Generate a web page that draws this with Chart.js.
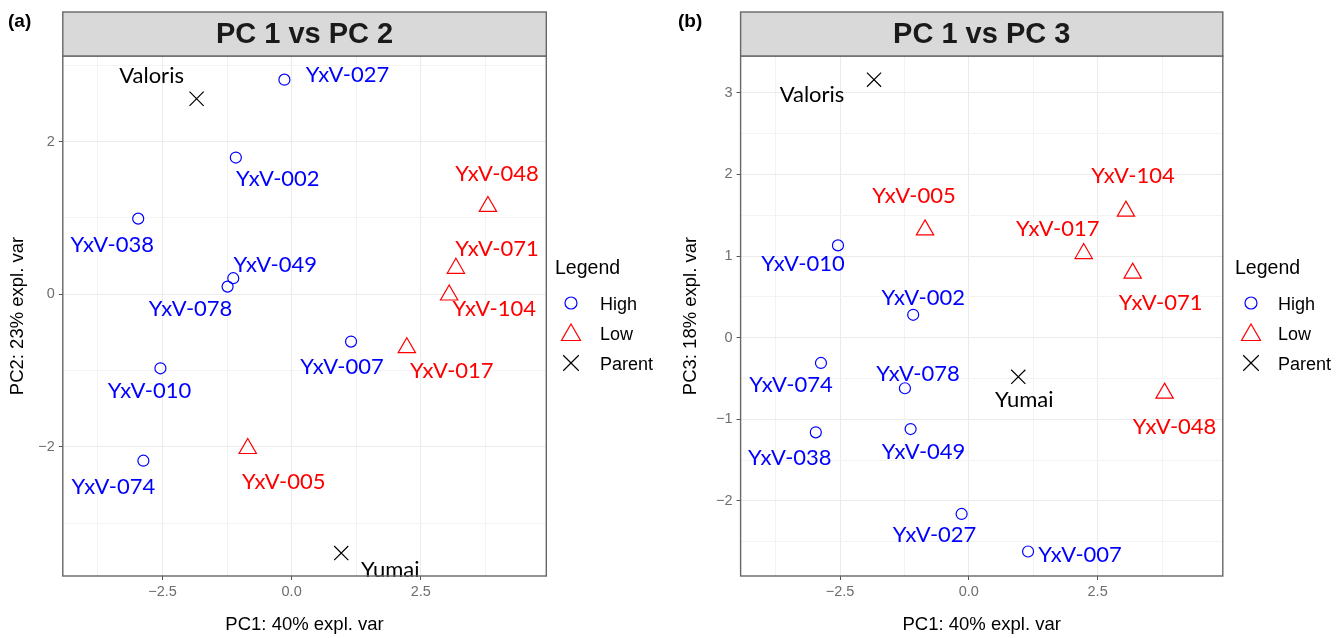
<!DOCTYPE html>
<html>
<head>
<meta charset="utf-8">
<script src="https://cdn.jsdelivr.net/npm/chart.js@4.4.1/dist/chart.umd.min.js"></script>
<style>
	html, body { margin: 0; padding: 0; background: #fff; }
	#wrap { position: relative; width: 1342px; height: 638px; }
	#panelA { position: absolute; left: 0; top: 0; }
	#panelB { position: absolute; left: 670px; top: 0; }
</style>
</head>
<body>
<div id="wrap">
	<canvas id="panelA" width="670" height="638"></canvas>
	<canvas id="panelB" width="672" height="638"></canvas>
</div>
<script>
// PCA scores
var sampleNames = ["YxV-002", "YxV-005", "YxV-007", "YxV-010", "YxV-017", "YxV-027", "YxV-038", "YxV-048",
	"YxV-049", "YxV-071", "YxV-074", "YxV-078", "YxV-104", "Valoris", "Yumai"];
var sampleGroups = ["High", "Low", "High", "High", "Low", "High", "High", "Low",
	"High", "Low", "High", "High", "Low", "Parent", "Parent"];
var pc1 = [-1.08, -0.85, 1.15, -2.54, 2.23, -0.14, -2.97, 3.80, -1.13, 3.18, -2.87, -1.24, 3.05, -1.84, 0.96];
var pc2 = [1.79, -2.02, -0.62, -0.97, -0.70, 2.81, 0.99, 1.15, 0.21, 0.34, -2.18, 0.10, -0.01, 2.56, -3.39];
var pc3 = [0.28, 1.32, -2.62, 1.13, 1.03, -2.16, -1.16, -0.68, -1.12, 0.79, -0.31, -0.62, 1.55, 3.16, -0.48];
var groupNames = ["High", "Low", "Parent"];

var xTicks = [-3.75, -2.5, -1.25, 0, 1.25, 2.5, 3.75];
var yTicksPC2 = [-3, -2, -1, 0, 1, 2, 3];
var yTicksPC3 = [-2.5, -2, -1.5, -1, -0.5, 0, 0.5, 1, 1.5, 2, 2.5, 3];

var groupStyle = {
	High: { color: "#0000FF", pointStyle: "circle", radius: 5.5, legendRadius: 6 },
	Low: { color: "#FF0000", pointStyle: "triangle", radius: 10, legendRadius: 11 },
	Parent: { color: "#000000", pointStyle: "crossRot", radius: 10, legendRadius: 11 }
};

// label placement (pixels from the point), like ggrepel put them
var labelOffsets = {
	panelA: {
		"Valoris": [-45, -23], "YxV-027": [63, -5], "YxV-002": [42, 21], "YxV-038": [-26, 26],
		"YxV-049": [42, -13], "YxV-078": [-37, 22], "YxV-048": [9, -33], "YxV-071": [41, -19],
		"YxV-104": [45, 14], "YxV-007": [-9, 25], "YxV-017": [45, 23], "YxV-010": [-11, 23],
		"YxV-005": [36, 33], "YxV-074": [-30, 26], "Yumai": [49, 17]
	},
	panelB: {
		"Valoris": [-62, 15], "YxV-104": [7, -35], "YxV-005": [-11, -34], "YxV-010": [-35, 19],
		"YxV-017": [-26, -25], "YxV-071": [28, 30], "YxV-002": [10, -17], "YxV-074": [-30, 22],
		"YxV-078": [13, -14], "Yumai": [6, 23], "YxV-048": [10, 34], "YxV-038": [-26, 26],
		"YxV-049": [13, 23], "YxV-027": [-27, 21], "YxV-007": [52, 3]
	}
};

var panelInfo = {
	panelA: { letter: "(a)", strip: "PC 1 vs PC 2", yValues: pc2, legendX: [555, 571, 600] },
	panelB: { letter: "(b)", strip: "PC 1 vs PC 3", yValues: pc3, legendX: [565, 581, 608] }
};

function fmtNum(v, digits) {
	var s = v.toFixed(digits);
	if (v < 0) s = "\u2212" + s.substring(1);
	if (s === "\u22120" || s === "\u22120.0") s = s.substring(1);
	return s;
}

function isMultiple(v, step) {
	return Math.abs(v / step - Math.round(v / step)) < 1e-6;
}

var panelPlugin = {
	id: "panelDeco",
	afterDatasetsDraw: function(chart) {
		var info = panelInfo[chart.canvas.id];
		var offsets = labelOffsets[chart.canvas.id];
		var ctx = chart.ctx, xs = chart.scales.x, ys = chart.scales.y;
		ctx.save();
		ctx.font = "22px Lato";
		ctx.textAlign = "center";
		ctx.textBaseline = "middle";
		for (var i = 0; i < sampleNames.length; i++) {
			var off = offsets[sampleNames[i]];
			ctx.fillStyle = groupStyle[sampleGroups[i]].color;
			ctx.fillText(sampleNames[i], xs.getPixelForValue(pc1[i]) + off[0], ys.getPixelForValue(info.yValues[i]) + off[1]);
		}
		var a = chart.chartArea;
		ctx.strokeStyle = "#666666";
		ctx.lineWidth = 1.4;
		ctx.strokeRect(a.left, a.top, a.right - a.left, a.bottom - a.top);
		ctx.restore();
	},
	afterDraw: function(chart) {
		var info = panelInfo[chart.canvas.id];
		var ctx = chart.ctx, a = chart.chartArea;
		ctx.save();
		// facet strip
		ctx.fillStyle = "#D9D9D9";
		ctx.fillRect(a.left, 12, a.right - a.left, a.top - 12);
		ctx.strokeStyle = "#666666";
		ctx.lineWidth = 1.4;
		ctx.strokeRect(a.left, 12, a.right - a.left, a.top - 12);
		ctx.fillStyle = "#1A1A1A";
		ctx.font = "bold 29px 'Liberation Sans', Arial, sans-serif";
		ctx.textAlign = "center";
		ctx.textBaseline = "middle";
		ctx.fillText(info.strip, (a.left + a.right) / 2, 35);
		// panel letter
		ctx.fillStyle = "#000";
		ctx.font = "bold 19px 'Liberation Sans', Arial, sans-serif";
		ctx.textAlign = "left";
		ctx.fillText(info.letter, 8, 22);
		// legend
		ctx.font = "19.5px 'Liberation Sans', Arial, sans-serif";
		ctx.fillText("Legend", info.legendX[0], 269);
		ctx.font = "18px 'Liberation Sans', Arial, sans-serif";
		for (var i = 0; i < groupNames.length; i++) {
			var st = groupStyle[groupNames[i]];
			var y = 303 + i * 30;
			ctx.strokeStyle = st.color;
			ctx.fillStyle = "rgba(0,0,0,0)";
			ctx.lineWidth = 1.2;
			Chart.helpers.drawPoint(ctx, { pointStyle: st.pointStyle, radius: st.legendRadius, rotation: 0, borderWidth: 1.2 },
				info.legendX[1], y + (st.pointStyle === "triangle" ? 2 : 0));
			ctx.fillStyle = "#000";
			ctx.fillText(groupNames[i], info.legendX[2], y + 2);
		}
		ctx.restore();
	}
};

function createPcaChart(canvasId, yValues, yTicks, yMin, yMax, yMajorStep, yTitle, axisWidth, padRight, yTitlePad) {
	var datasets = [];
	for (var g = 0; g < groupNames.length; g++) {
		var st = groupStyle[groupNames[g]];
		var data = [];
		for (var i = 0; i < sampleNames.length; i++) {
			if (sampleGroups[i] === groupNames[g]) data.push({ x: pc1[i], y: yValues[i] });
		}
		datasets.push({
			label: groupNames[g],
			data: data,
			pointStyle: st.pointStyle,
			pointRadius: st.radius,
			pointHoverRadius: st.radius,
			borderColor: st.color,
			backgroundColor: "rgba(0,0,0,0)",
			borderWidth: 1.2
		});
	}

	var tickFont = { family: "'Liberation Sans', Arial, sans-serif", size: 14.5 };
	var titleFont = { family: "'Liberation Sans', Arial, sans-serif", size: 18.5 };

	return new Chart(document.getElementById(canvasId), {
		type: "scatter",
		data: { datasets: datasets },
		plugins: [panelPlugin],
		options: {
			responsive: false,
			animation: false,
			devicePixelRatio: 1,
			layout: { padding: { top: 56, left: 0, right: padRight, bottom: 0 } },
			scales: {
				x: {
					type: "linear",
					min: -4.43,
					max: 4.93,
					afterBuildTicks: function(scale) {
						scale.ticks = xTicks.map(function(v) { return { value: v }; });
					},
					afterFit: function(scale) { scale.height = 62; },
					border: { display: false },
					grid: {
						color: function(c) { return isMultiple(c.tick.value, 2.5) ? "#EBEBEB" : "#F3F3F3"; },
						tickColor: function(c) { return isMultiple(c.tick.value, 2.5) ? "#555555" : "rgba(0,0,0,0)"; },
						tickLength: 4
					},
					ticks: {
						color: "#6E6E6E",
						font: tickFont,
						padding: 3,
						maxRotation: 0,
						callback: function(v) { return isMultiple(v, 2.5) ? fmtNum(v, 1) : ""; }
					},
					title: { display: true, text: "PC1: 40% expl. var", color: "#000", font: titleFont, padding: { top: 0, bottom: 2 } }
				},
				y: {
					type: "linear",
					min: yMin,
					max: yMax,
					afterBuildTicks: function(scale) {
						scale.ticks = yTicks.map(function(v) { return { value: v }; });
					},
					afterFit: function(scale) { scale.width = axisWidth; },
					border: { display: false },
					grid: {
						color: function(c) { return isMultiple(c.tick.value, yMajorStep) ? "#EBEBEB" : "#F3F3F3"; },
						tickColor: function(c) { return isMultiple(c.tick.value, yMajorStep) ? "#555555" : "rgba(0,0,0,0)"; },
						tickLength: 4
					},
					ticks: {
						color: "#6E6E6E",
						font: tickFont,
						padding: 4,
						callback: function(v) { return isMultiple(v, yMajorStep) ? fmtNum(v, 0) : ""; }
					},
					title: { display: true, text: yTitle, color: "#000", font: titleFont, padding: { top: yTitlePad, bottom: 0 } }
				}
			},
			plugins: {
				legend: { display: false },
				tooltip: { enabled: false }
			}
		}
	});
}

createPcaChart("panelA", pc2, yTicksPC2, -3.69, 3.12, 2, "PC2: 23% expl. var", 62.8, 123.7, 7);
createPcaChart("panelB", pc3, yTicksPC3, -2.92, 3.45, 1, "PC3: 18% expl. var", 70.6, 119.2, 9.5);
</script>
</body>
</html>
